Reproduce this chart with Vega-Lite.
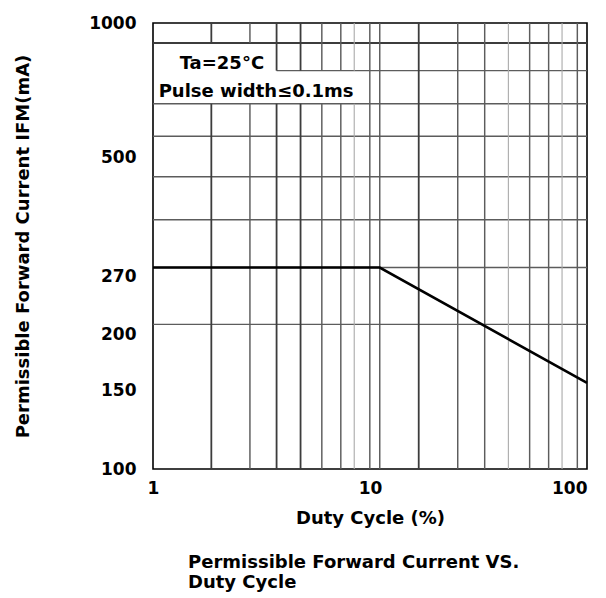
{
  "$schema": "https://vega.github.io/schema/vega-lite/v6.json",
  "width": 434,
  "height": 446,
  "autosize": {"type": "none"},
  "padding": {"left": 153, "top": 23, "right": 19, "bottom": 129},
  "background": "white",
  "config": {
    "view": {"stroke": "black", "strokeWidth": 1.6},
    "font": "DejaVu Sans",
    "axis": {
      "grid": false, "ticks": false, "tickSize": 0, "domain": false,
      "labelFont": "DejaVu Sans", "labelFontSize": 17, "labelFontWeight": "bold", "labelColor": "black",
      "titleFont": "DejaVu Sans", "titleFontSize": 18, "titleFontWeight": "bold", "titleColor": "black"
    },
    "title": {"font": "DejaVu Sans", "fontSize": 18, "fontWeight": "bold", "color": "black"}
  },
  "title": {
    "text": ["Permissible Forward Current VS.", "Duty Cycle"],
    "orient": "bottom", "anchor": "start", "frame": "group", "dx": 35, "offset": 27, "lineHeight": 20
  },
  "datasets": {
    "grid": [
      {"x1": 1, "x2": 100, "y1": 902, "y2": 902, "kind": "major"},
      {"x1": 3.711, "x2": 100, "y1": 782, "y2": 782, "kind": "minor"},
      {"x1": 1, "x2": 100, "y1": 659, "y2": 659, "kind": "minor"},
      {"x1": 1, "x2": 100, "y1": 557, "y2": 557, "kind": "minor"},
      {"x1": 1, "x2": 100, "y1": 452, "y2": 452, "kind": "minor"},
      {"x1": 1, "x2": 100, "y1": 362, "y2": 362, "kind": "minor"},
      {"x1": 1, "x2": 100, "y1": 283, "y2": 283, "kind": "minor"},
      {"x1": 1, "x2": 100, "y1": 211, "y2": 211, "kind": "minor"},
      {"x1": 1.857, "x2": 1.857, "y1": 100, "y2": 659, "kind": "major"},
      {"x1": 1.857, "x2": 1.857, "y1": 902, "y2": 1000, "kind": "major"},
      {"x1": 2.797, "x2": 2.797, "y1": 100, "y2": 659, "kind": "minor"},
      {"x1": 2.797, "x2": 2.797, "y1": 902, "y2": 1000, "kind": "minor"},
      {"x1": 3.711, "x2": 3.711, "y1": 100, "y2": 659, "kind": "major"},
      {"x1": 3.711, "x2": 3.711, "y1": 782, "y2": 1000, "kind": "major"},
      {"x1": 4.786, "x2": 4.786, "y1": 100, "y2": 659, "kind": "major"},
      {"x1": 4.786, "x2": 4.786, "y1": 782, "y2": 1000, "kind": "major"},
      {"x1": 5.998, "x2": 5.998, "y1": 100, "y2": 659, "kind": "minor"},
      {"x1": 5.998, "x2": 5.998, "y1": 782, "y2": 1000, "kind": "minor"},
      {"x1": 7.337, "x2": 7.337, "y1": 100, "y2": 659, "kind": "minor"},
      {"x1": 7.337, "x2": 7.337, "y1": 782, "y2": 1000, "kind": "minor"},
      {"x1": 8.459, "x2": 8.459, "y1": 100, "y2": 659, "kind": "light"},
      {"x1": 8.459, "x2": 8.459, "y1": 782, "y2": 1000, "kind": "light"},
      {"x1": 9.98, "x2": 9.98, "y1": 100, "y2": 1000, "kind": "minor"},
      {"x1": 11.09, "x2": 11.09, "y1": 100, "y2": 1000, "kind": "minor"},
      {"x1": 16.77, "x2": 16.77, "y1": 100, "y2": 1000, "kind": "major"},
      {"x1": 25.37, "x2": 25.37, "y1": 100, "y2": 1000, "kind": "minor"},
      {"x1": 33.77, "x2": 33.77, "y1": 100, "y2": 1000, "kind": "minor"},
      {"x1": 43.42, "x2": 43.42, "y1": 100, "y2": 1000, "kind": "light"},
      {"x1": 54.41, "x2": 54.41, "y1": 100, "y2": 1000, "kind": "minor"},
      {"x1": 66.56, "x2": 66.56, "y1": 100, "y2": 1000, "kind": "minor"},
      {"x1": 76.74, "x2": 76.74, "y1": 100, "y2": 1000, "kind": "light"},
      {"x1": 90.25, "x2": 90.25, "y1": 100, "y2": 1000, "kind": "minor"}
    ],
    "curve": [
      {"duty": 1, "current": 283},
      {"duty": 11.09, "current": 283},
      {"duty": 100, "current": 156}
    ],
    "notes": [
      {"duty": 1.327, "current": 790, "label": "Ta=25°C"},
      {"duty": 1.062, "current": 682, "label": "Pulse width≤0.1ms"}
    ]
  },
  "layer": [
    {
      "data": {"name": "grid"},
      "mark": {"type": "rule"},
      "encoding": {
        "x": {
          "field": "x1", "type": "quantitative", "title": "Duty Cycle (%)",
          "scale": {"type": "log", "domain": [1, 100]},
          "axis": {
            "values": [1, 10, 100], "format": "d", "labelFlush": false, "labelPadding": 11, "titlePadding": 13,
            "labelAlign": {"condition": {"test": "datum.value >= 100", "value": "right"}, "value": "center"}
          }
        },
        "x2": {"field": "x2"},
        "y": {
          "field": "y1", "type": "quantitative", "title": "Permissible Forward Current IFM(mA)",
          "scale": {"type": "log", "domain": [100, 1000]},
          "axis": {"values": [100, 150, 200, 270, 500, 1000], "format": "d", "labelPadding": 17, "titlePadding": 56}
        },
        "y2": {"field": "y2"},
        "color": {
          "field": "kind", "type": "nominal", "legend": null,
          "scale": {"domain": ["major", "minor", "light"], "range": ["#3c3c3c", "#5c5c5c", "#aaaaaa"]}
        },
        "strokeWidth": {
          "field": "kind", "type": "nominal", "legend": null,
          "scale": {"domain": ["major", "minor", "light"], "range": [1.8, 1.1, 1.4]}
        }
      }
    },
    {
      "data": {"name": "curve"},
      "mark": {"type": "line", "color": "black", "strokeWidth": 2.6},
      "encoding": {
        "x": {"field": "duty", "type": "quantitative", "title": "Duty Cycle (%)"},
        "y": {"field": "current", "type": "quantitative", "title": "Permissible Forward Current IFM(mA)"}
      }
    },
    {
      "data": {"name": "notes"},
      "mark": {"type": "text", "align": "left", "baseline": "alphabetic", "fontSize": 18, "fontWeight": "bold", "color": "black"},
      "encoding": {
        "x": {"field": "duty", "type": "quantitative", "title": "Duty Cycle (%)"},
        "y": {"field": "current", "type": "quantitative", "title": "Permissible Forward Current IFM(mA)"},
        "text": {"field": "label"}
      }
    }
  ]
}
